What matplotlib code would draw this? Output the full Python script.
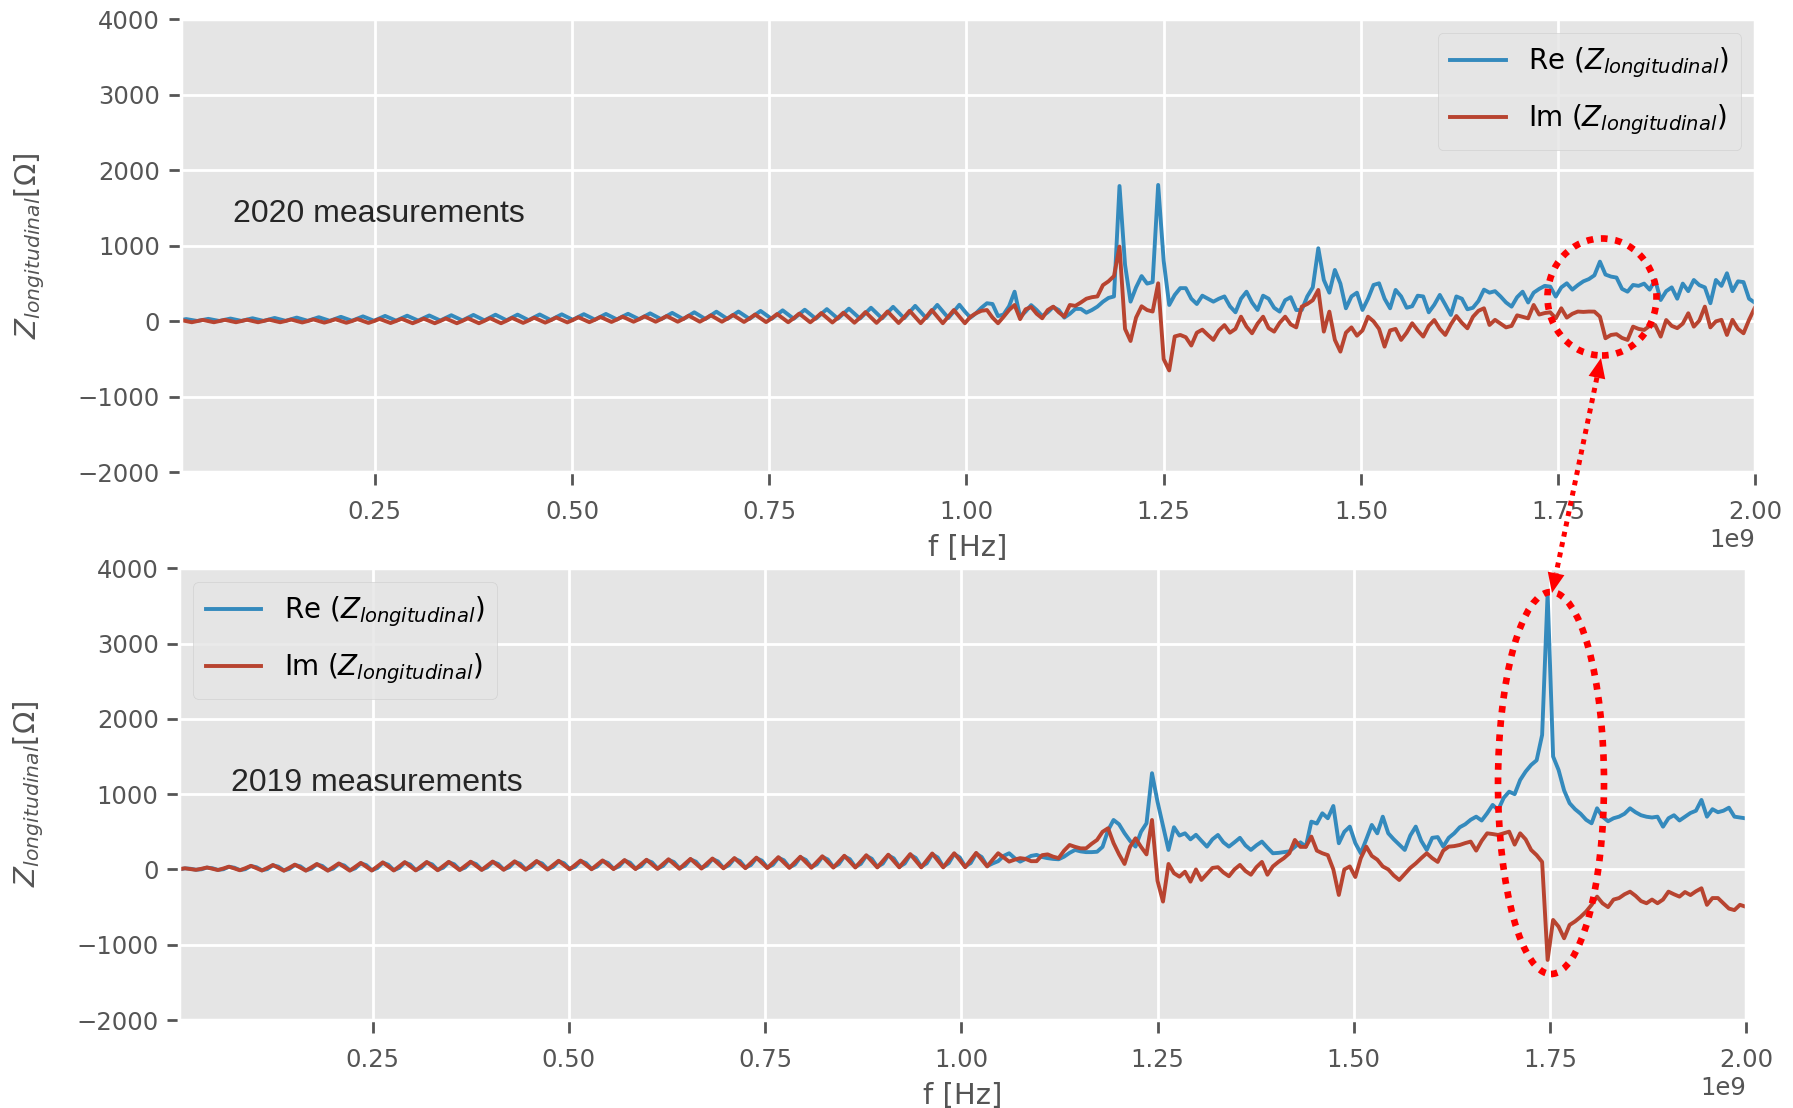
import numpy as np
import matplotlib.pyplot as plt
from matplotlib.patches import Ellipse, Polygon
from matplotlib.lines import Line2D

plt.style.use('ggplot')

# frequency sweep: 4 MHz to 1999 MHz, 7 MHz step (286 points)
f_start_mhz = 4
f_step_mhz = 7
n_points = 286
freq = (f_start_mhz + f_step_mhz * np.arange(n_points)) * 1e6

# 2020 measurements [Ohm]
re_2020 = [
    17, 30, 17, 5, 19, 33, 19, 5, 21, 37, 21, 6, 23, 41, 23, 6, 26, 45, 26, 7,
    28, 50, 28, 7, 31, 55, 31, 7, 34, 60, 34, 8, 37, 66, 37, 8, 40, 72, 40, 9,
    42, 75, 42, 10, 44, 78, 44, 11, 46, 81, 46, 12, 49, 85, 49, 13, 51, 88, 51, 14,
    52, 89, 52, 15, 54, 91, 54, 17, 56, 93, 56, 20, 59, 95, 59, 23, 61, 98, 61, 25,
    64, 100, 64, 28, 67, 106, 67, 29, 71, 112, 71, 30, 75, 120, 75, 31, 80, 128, 80, 32,
    81, 130, 81, 32, 85, 138, 85, 33, 90, 146, 90, 34, 94, 154, 94, 35, 99, 162, 99, 36,
    102, 168, 102, 37, 109, 180, 109, 39, 116, 192, 116, 41, 124, 205, 124, 43, 131, 218, 131, 45,
    130, 220, 130, 50, 107, 180, 240, 230, 70, 90, 200, 393, 60, 130, 215, 150, 70, 120, 190, 150,
    50, 100, 165, 165, 115, 150, 195, 260, 310, 330, 1793, 750, 261, 450, 600, 500, 520, 1807, 800, 217,
    350, 440, 440, 300, 230, 340, 300, 261, 300, 330, 200, 120, 300, 393, 250, 151, 340, 300, 180, 129,
    280, 320, 150, 150, 330, 450, 968, 548, 380, 681, 500, 173, 330, 380, 151, 300, 482, 504, 300, 173,
    416, 330, 180, 200, 340, 330, 120, 220, 350, 220, 85, 330, 300, 160, 180, 270, 420, 380, 400, 330,
    250, 195, 320, 393, 250, 380, 430, 470, 460, 328, 450, 504, 420, 480, 530, 560, 610, 791, 620, 593,
    580, 430, 393, 482, 470, 500, 420, 548, 283, 400, 450, 300, 500, 400, 548, 480, 450, 240, 548, 470,
    637, 400, 530, 520, 300, 250,
]
im_2020 = [
    18, 3, -12, 3, 19, 4, -12, 4, 20, 4, -12, 4, 21, 5, -12, 5, 22, 5, -12, 5,
    24, 4, -15, 4, 26, 4, -17, 4, 28, 4, -19, 4, 30, 4, -21, 4, 32, 5, -22, 5,
    34, 4, -25, 4, 36, 5, -25, 5, 38, 6, -25, 6, 40, 7, -25, 7, 42, 8, -25, 8,
    45, 12, -20, 12, 48, 15, -17, 15, 51, 18, -14, 18, 54, 21, -11, 21, 58, 25, -8, 25,
    62, 28, -5, 28, 66, 30, -5, 30, 70, 32, -5, 32, 75, 35, -5, 35, 80, 37, -5, 37,
    85, 38, -8, 38, 91, 40, -10, 40, 97, 42, -12, 42, 103, 45, -13, 45, 110, 47, -15, 47,
    115, 48, -18, 48, 123, 51, -20, 51, 131, 55, -22, 55, 140, 58, -24, 58, 150, 62, -25, 62,
    150, 62, -25, 60, 107, 140, 150, 50, -25, 60, 150, 217, 30, 160, 190, 100, 41, 150, 195, 120,
    62, 217, 205, 250, 300, 320, 330, 480, 530, 600, 990, -100, -260, 50, 200, 150, 130, 504, -500, -650,
    -200, -180, -210, -320, -150, -110, -180, -246, -120, -50, -150, -100, 62, -70, -158, -30, 62, -90, -136, -20,
    62, -40, -80, 195, 230, 280, 416, -136, 129, -246, -401, -150, -80, -190, -120, 62, 0, -100, -335, -120,
    -100, -246, -150, -25, -120, -202, -60, 18, -100, -180, -40, 71, -20, -92, 60, 140, 173, -48, 20, -30,
    -80, -60, 80, 60, 40, 217, 90, 110, 120, 40, 173, 50, 100, 130, 125, 130, 129, 62, -224, -180,
    -170, -220, -246, -70, -100, -114, -60, -48, -202, 18, -60, -90, -30, 107, -70, 10, 195, -80, 0, 20,
    -180, 20, -100, -158, 20, 173,
]

# 2019 measurements [Ohm]
re_2019 = [
    1, 14, 9, -4, 2, 24, 16, -6, 3, 35, 23, -9, 4, 45, 30, -11, 5, 55, 37, -13,
    7, 60, 41, -12, 10, 68, 46, -12, 12, 75, 52, -11, 15, 82, 57, -10, 17, 89, 63, -9,
    19, 92, 65, -8, 21, 94, 67, -6, 23, 96, 69, -4, 25, 98, 71, -2, 27, 100, 73, 0,
    28, 102, 76, 2, 31, 106, 79, 4, 34, 109, 82, 7, 36, 112, 84, 8, 38, 114, 86, 10,
    40, 119, 90, 11, 42, 123, 94, 13, 46, 129, 98, 15, 49, 134, 103, 18, 53, 139, 107, 21,
    56, 144, 112, 24, 59, 150, 117, 26, 62, 156, 122, 28, 65, 162, 127, 30, 68, 168, 132, 32,
    71, 174, 137, 34, 74, 181, 142, 35, 77, 188, 147, 36, 79, 195, 153, 37, 81, 203, 159, 37,
    84, 205, 160, 40, 85, 210, 165, 45, 80, 110, 180, 215, 150, 104, 140, 180, 193, 165, 150, 140,
    135, 170, 220, 259, 240, 230, 230, 235, 300, 520, 657, 600, 481, 380, 303, 500, 613, 1278, 900, 580,
    259, 560, 450, 480, 400, 460, 380, 303, 400, 458, 360, 303, 360, 420, 320, 259, 320, 370, 290, 215,
    220, 230, 240, 300, 360, 303, 635, 610, 746, 680, 843, 348, 500, 569, 350, 215, 400, 591, 480, 701,
    480, 400, 330, 259, 450, 569, 380, 259, 420, 430, 303, 420, 480, 560, 600, 660, 701, 650, 746, 857,
    790, 950, 1033, 1000, 1188, 1300, 1388, 1450, 1786, 3668, 1500, 1320, 1050, 880, 800, 740, 660, 613, 812, 700,
    640, 680, 701, 740, 812, 760, 720, 700, 690, 701, 568, 680, 720, 650, 700, 750, 780, 923, 701, 800,
    760, 780, 820, 701, 690, 679,
]
im_2019 = [
    5, 15, 5, -5, 9, 26, 9, -8, 13, 37, 13, -11, 17, 48, 17, -14, 21, 59, 21, -17,
    24, 64, 24, -16, 28, 72, 28, -16, 32, 80, 32, -16, 36, 87, 36, -15, 40, 94, 40, -14,
    42, 97, 42, -13, 44, 99, 44, -11, 46, 101, 46, -9, 48, 103, 48, -7, 50, 105, 50, -5,
    52, 108, 52, -4, 55, 112, 55, -2, 58, 115, 58, 1, 60, 118, 60, 2, 62, 120, 62, 4,
    65, 125, 65, 5, 68, 129, 68, 7, 72, 135, 72, 9, 76, 140, 76, 12, 80, 145, 80, 15,
    84, 151, 84, 17, 88, 157, 88, 19, 92, 163, 92, 21, 96, 169, 96, 23, 100, 175, 100, 25,
    104, 182, 104, 26, 108, 189, 108, 27, 112, 196, 112, 28, 116, 204, 116, 28, 120, 212, 120, 28,
    124, 215, 125, 30, 125, 220, 130, 40, 130, 215, 160, 104, 130, 150, 140, 110, 110, 190, 200, 170,
    150, 250, 325, 300, 280, 280, 340, 392, 500, 547, 350, 200, 73, 300, 414, 300, 200, 657, -150, -427,
    73, -50, -96, -30, -162, 0, -140, -60, 20, 30, -40, -90, 0, 60, -20, -70, 30, 100, -70, 40,
    100, 150, 215, 392, 300, 300, 436, 250, 215, 190, 0, -339, 0, 40, -100, 150, 303, 180, 130, 40,
    0, -80, -140, -60, 20, 80, 150, 215, 150, 100, 250, 303, 310, 325, 350, 370, 250, 380, 480, 470,
    458, 480, 502, 330, 480, 400, 259, 190, 100, -1202, -671, -760, -914, -737, -690, -630, -560, -471, -361, -450,
    -500, -400, -380, -330, -295, -350, -420, -449, -400, -449, -400, -295, -330, -361, -300, -340, -290, -250, -470, -380,
    -380, -449, -520, -540, -470, -494,
]

panels = [
    (re_2020, im_2020, '2020 measurements', 'upper right', [0.1008, 0.5737, 0.8782, 0.4088]),
    (re_2019, im_2019, '2019 measurements', 'upper left', [0.1001, 0.0794, 0.8738, 0.4077]),
]

BLUE = '#348ABD'
RED = '#B84430'

fig = plt.figure(figsize=(17.93, 11.08), dpi=100)
fig.patch.set_facecolor('white')

for re_z, im_z, title, loc, rect in panels:
    ax = fig.add_axes(rect)
    ax.plot(freq, re_z, color=BLUE, lw=2.8, solid_joinstyle='round',
            label=r'Re ($Z_{longitudinal}$)')
    ax.plot(freq, im_z, color=RED, lw=2.8, solid_joinstyle='round',
            label=r'Im ($Z_{longitudinal}$)')
    ax.set_xlim(freq[0], 2e9)
    ax.set_ylim(-2000, 4000)
    ax.set_yticks(np.arange(-2000, 4001, 1000))
    ax.set_xticks(np.arange(0.25e9, 2.01e9, 0.25e9))
    ax.grid(True, color='white', lw=2.0)
    for sp in ax.spines.values():
        sp.set_color('white')
        sp.set_linewidth(2.5)
    ax.tick_params(axis='both', labelsize=17.5, length=9, width=2,
                   colors='#555555', direction='out')
    ax.tick_params(axis='y', pad=6)
    ax.tick_params(axis='x', pad=11)
    ax.xaxis.get_offset_text().set_fontsize(17.5)
    ax.xaxis.get_offset_text().set_color('#555555')
    ax.set_xlabel('f [Hz]', fontsize=21, color='#555555', labelpad=7)
    ax.set_ylabel(r'$Z_{longitudinal}[\Omega]$', fontsize=21, color='#555555', labelpad=22)
    ax.legend(loc=loc, fontsize=20, handlelength=2.0, labelspacing=0.8,
              borderpad=0.45)
    ax.text(0.033, 0.57 if loc == 'upper right' else 0.525, title,
            transform=ax.transAxes, fontsize=23, family='Liberation Sans',
            color='#262626', va='center', ha='left')

# highlight of the resonance shift (pixel positions on the figure)
W, H = 1793.0, 1108.0


def fxy(px, py):
    return px / W, 1 - py / H


def ring(cx, cy, w, h):
    e = Ellipse(fxy(cx, cy), w / W, h / H, transform=fig.transFigure,
                fill=False, ec='red', lw=4.8, linestyle=(0, (1, 1.15)), zorder=10)
    fig.add_artist(e)


ring(1602, 297, 109, 117)
ring(1551, 783, 106, 382)

p_top = np.array([1601.0, 358.0])
p_bot = np.array([1552.0, 593.0])
d = (p_bot - p_top) / np.linalg.norm(p_bot - p_top)
n = np.array([-d[1], d[0]])
head_len, head_w = 20.0, 8.5
a = p_top + d * head_len
b = p_bot - d * head_len
fig.add_artist(Line2D([fxy(*a)[0], fxy(*b)[0]], [fxy(*a)[1], fxy(*b)[1]],
                      transform=fig.transFigure, color='red', lw=3.6,
                      linestyle=(0, (1, 1.1)), zorder=10))
for tip, base in ((p_top, a), (p_bot, b)):
    pts = [fxy(*tip), fxy(*(base + n * head_w)), fxy(*(base - n * head_w))]
    fig.add_artist(Polygon(pts, closed=True, transform=fig.transFigure,
                           fc='red', ec='none', zorder=10))

fig.savefig('out.png', dpi=100)
